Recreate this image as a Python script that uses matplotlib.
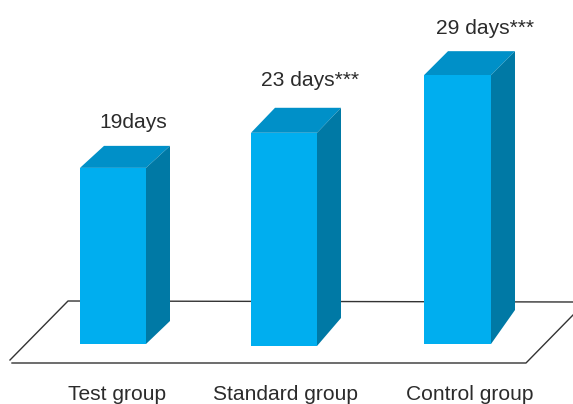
import matplotlib
matplotlib.use('Agg')
import matplotlib.pyplot as plt
from matplotlib.patches import Polygon

plt.rcParams['font.family'] = ['Liberation Sans', 'DejaVu Sans']

groups = ['Test group', 'Standard group', 'Control group']
days = [19, 23, 29]
bar_labels = ['19days', '23 days***', '29 days***']

# pixel layout of the 573x404 picture
W, H = 573, 404
px_per_day = 9.27
base_px = 344
left = [80, 251, 424]
widths = [66, 66, 67]
bottoms_px = [344, 346, 344]
depth_x = [24, 24, 24]
depth_top = [22, 25, 24]
depth_bottom = [23, 28, 34]
line_col = '#333333'


def py(p):
    # picture row to days
    return (base_px - p) / px_per_day


fig = plt.figure(figsize=(W / 100, H / 100), dpi=100)
ax = fig.add_axes([0, 0, 1, 1])
ax.set_xlim(0, W)
ax.set_ylim(py(H), py(0))
ax.axis('off')

# floor
ax.plot([10, 68, 573], [py(360), py(301), py(302)], color=line_col, lw=1.0, zorder=1)
ax.plot([12, 526, 573], [py(363), py(363), py(315)], color=line_col, lw=1.0, zorder=1)

for x, w, d, b, dx, dt, db in zip(left, widths, days, bottoms_px, depth_x, depth_top, depth_bottom):
    b = py(b)
    top = b + d
    dt = dt / px_per_day
    db = db / px_per_day
    # top face
    ax.add_patch(Polygon([(x, top), (x + w, top), (x + w + dx, top + dt), (x + dx, top + dt)],
                         facecolor='#0090c8', edgecolor='none', zorder=3))
    # side face
    ax.add_patch(Polygon([(x + w, b), (x + w + dx, b + db), (x + w + dx, top + dt), (x + w, top)],
                         facecolor='#0079a5', edgecolor='none', zorder=3))
    ax.bar(x, d, width=w, bottom=b, align='edge', color='#00aeef', zorder=4)

label_x = [133.5, 310, 485.5]
label_py = [123, 80, 28]
for x, p, s in zip(label_x, label_py, bar_labels):
    ax.text(x, py(p), s, ha='center', va='center', fontsize=15.1, color='#2b2b2b')

group_x = [117.5, 285.5, 470]
for x, s in zip(group_x, groups):
    ax.text(x, py(395), s, ha='center', va='center', fontsize=15.1, color='#2b2b2b')

fig.savefig('out.png', dpi=100)
